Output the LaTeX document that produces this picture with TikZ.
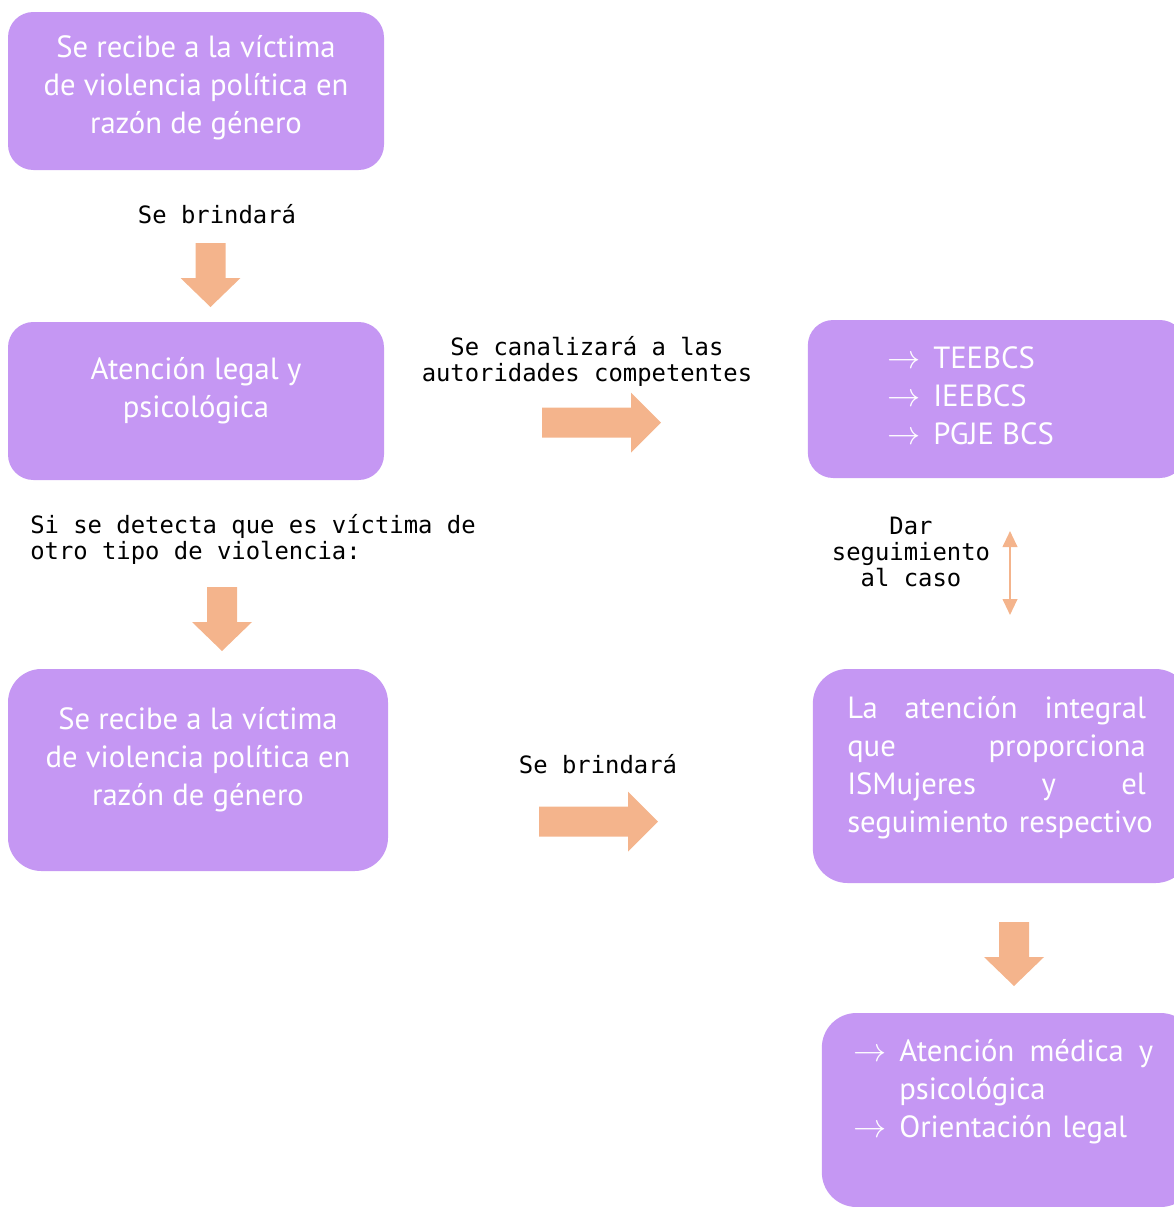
\documentclass[tikz,border=0pt]{standalone}
\usepackage{amsmath, amssymb}
\usepackage{xcolor}
\usepackage{fontspec}
\usepackage{tikz}
\usetikzlibrary{arrows.meta}

\setmonofont{DejaVu Sans Mono}
\newfontfamily\cajafont{PT Sans}

\definecolor{lila}{RGB}{197,151,243}
\definecolor{naranja}{RGB}{244,180,140}

\newcommand{\flecha}{\makebox[34.5pt][l]{$\rightarrow$}}

\tikzset{
    caja/.style = {rectangle, rounded corners=19pt, fill=lila, draw=none, inner sep=0pt},
    textocaja/.style = {text=white, inner sep=0pt, font=\cajafont\fontsize{23}{28.5}\selectfont},
    nota/.style = {inner sep=0pt, align=center, font=\ttfamily\fontsize{17.9}{19.5}\selectfont},
    pics/bajar/.style = {code={
        \fill[naranja] (-15,0) -- (15,0) -- (15,35) -- (30,35) -- (0,64) -- (-30,35) -- (-15,35) -- cycle;}},
    pics/avanzar/.style = {code={
        \fill[naranja] (0,-15) -- (89,-15) -- (89,-30) -- (119,0) -- (89,30) -- (89,15) -- (0,15) -- cycle;}}
}

\begin{document}
\begin{tikzpicture}[x=0.75pt, y=-0.75pt]
        \useasboundingbox (0,0) rectangle (1174,1207);
        \clip (0,0) rectangle (1174,1207);
        % cajas
        \begin{scope}[every node/.style = {caja}]
            \node[minimum width=282pt, minimum height=118.5pt] (A) at (196,91) {};
            \node[minimum width=282pt, minimum height=118.5pt] (B) at (196,401) {};
            \node[minimum width=285pt, minimum height=151.5pt, rounded corners=25pt] (C) at (198,770) {};
            \node[minimum width=283pt, minimum height=118.5pt] (D) at (996.5,399) {};
            \node[minimum width=283pt, minimum height=160.5pt, rounded corners=26pt] (E) at (1001.5,776) {};
            \node[minimum width=280pt, minimum height=145.5pt, rounded corners=26pt] (F) at (1008.5,1110) {};
        \end{scope}
        % textos de las cajas
        \begin{scope}[every node/.style = {textocaja}]
            \node[align=center] (tA) at (196,88) {Se recibe a la víctima\\de violencia política en\\razón de género};
            \node[align=center] (tB) at (196,391) {Atención legal y\\psicológica};
            \node[align=center] (tC) at (198,760) {Se recibe a la víctima\\de violencia política en\\razón de género};
            \node[align=left, anchor=west] (tD) at (887,396) {\flecha TEEBCS\\\flecha IEEBCS\\\flecha PGJE BCS};
            \node[align=left, anchor=west, text width=224pt] (tE) at (847,768)
                {La\hfill atención\hfill integral\\que\hfill proporciona\\ISMujeres\hfill y\hfill el\\\mbox{seguimiento respectivo}};
            \node[align=left, anchor=west, text width=225pt] (tF) at (853,1092)
                {\flecha Atención\hfill médica\hfill y\\\hspace*{34.5pt}psicológica\\\flecha Orientación legal};
        \end{scope}
        % notas
        \begin{scope}[every node/.style = {nota}]
            \node (n1) at (217,214) {Se brindará};
            \node (n2) at (587,361) {Se canalizará a las\\autoridades competentes};
            \node[align=left, anchor=west] (n3) at (30,539) {Si se detecta que es víctima de\\otro tipo de violencia:};
            \node (n4) at (911,552) {Dar\\seguimiento\\al caso};
            \node (n5) at (598,764) {Se brindará};
        \end{scope}
        % flechas
        \pic (f1) at (210.5,243) {bajar};
        \pic (f2) at (222,587) {bajar};
        \pic (f3) at (1014,922) {bajar};
        \pic (f4) at (542,422.5) {avanzar};
        \pic (f5) at (539,821.5) {avanzar};
        \coordinate (s1) at (1010,531);
        \coordinate (s2) at (1010,615);
        \draw[naranja, line width=1.5pt, {Triangle[width=11pt,length=12pt]}-{Triangle[width=11pt,length=12pt]}] (s1) -- (s2);
    \end{tikzpicture}
\end{document}
